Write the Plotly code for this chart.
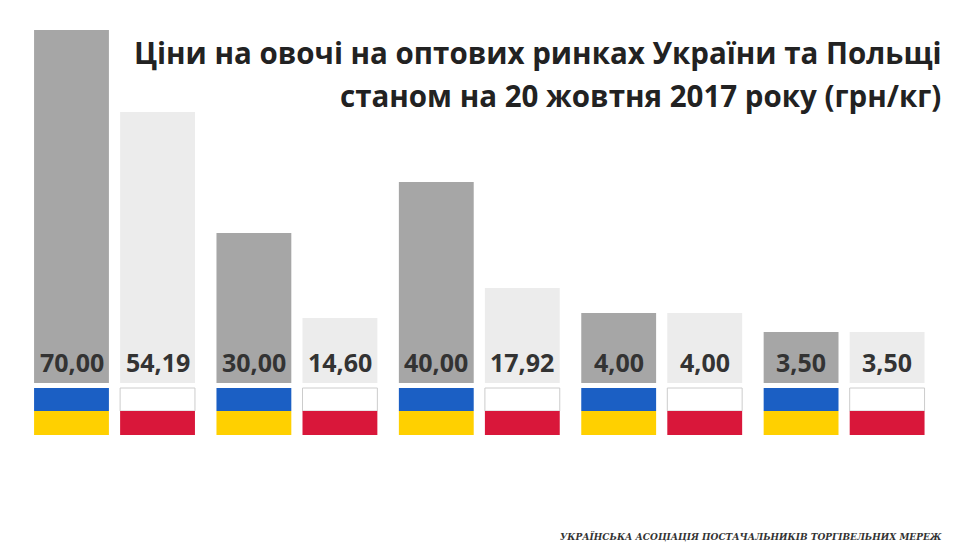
import plotly.graph_objects as go

products = ["Цибуля зелена", "Помідори", "Петрушка", "Морква", "Картопля"]
ukraine_price = [70.00, 30.00, 40.00, 4.00, 3.50]
poland_price = [54.19, 14.60, 17.92, 4.00, 3.50]
# drawn bar heights as shown in the infographic (not proportional to prices)
ukraine_bar = [353, 150, 201, 70, 51]
poland_bar = [271, 65, 95, 70, 51]

def fmt(v):
    return f"{v:.2f}".replace(".", ",")

xu = [i * 2.12 for i in range(len(products))]
xp = [i * 2.12 + 1 for i in range(len(products))]
w = 0.87

fig = go.Figure()
fig.add_bar(x=xu, y=ukraine_bar, width=w, marker_color="#a6a6a6", marker_line_width=0)
fig.add_bar(x=xp, y=poland_bar, width=w, marker_color="#ececec", marker_line_width=0)
fig.add_bar(x=xu, y=[-23]*5, base=[-5]*5, width=w, marker_color="#1b5fc4", marker_line_width=0)
fig.add_bar(x=xu, y=[-24]*5, base=[-28]*5, width=w, marker_color="#ffd000", marker_line_width=0)
fig.add_bar(x=xp, y=[-23]*5, base=[-5]*5, width=w, marker_color="#ffffff", marker_line=dict(color="#cccccc", width=1))
fig.add_bar(x=xp, y=[-24]*5, base=[-28]*5, width=w, marker_color="#d9173a", marker_line_width=0)

for x, v in list(zip(xu, ukraine_price)) + list(zip(xp, poland_price)):
    fig.add_annotation(x=x, y=21, text=f"<b>{fmt(v)}</b>", showarrow=False,
                       font=dict(size=25, color="#333333", family="Open Sans"))

fig.add_annotation(xref="paper", yref="paper", x=0.974, y=1 - 45/553, xanchor="right", yanchor="middle",
                   text="<b>Ціни на овочі на оптових ринках України та Польщі</b>",
                   showarrow=False, font=dict(size=29.5, color="#222222", family="Open Sans"))
fig.add_annotation(xref="paper", yref="paper", x=0.974, y=1 - 88/553, xanchor="right", yanchor="middle",
                   text="<b>станом на 20 жовтня 2017 року (грн/кг)</b>",
                   showarrow=False, font=dict(size=29.5, color="#222222", family="Open Sans"))
fig.add_annotation(xref="paper", yref="paper", x=0.975, y=1 - 528/553, xanchor="right", yanchor="middle",
                   text="<b><i>УКРАЇНСЬКА АСОЦІАЦІЯ ПОСТАЧАЛЬНИКІВ ТОРГІВЕЛЬНИХ МЕРЕЖ</i></b>",
                   showarrow=False, font=dict(size=9, color="#333333", family="DejaVu Serif"))

fig.update_layout(width=960, height=553, margin=dict(l=0, r=0, t=0, b=0),
                  plot_bgcolor="white", paper_bgcolor="white", showlegend=False,
                  barmode="overlay",
                  xaxis=dict(range=[-0.738, 10.42], visible=False),
                  yaxis=dict(range=[-178, 375], visible=False))
fig.write_html("out.html")
